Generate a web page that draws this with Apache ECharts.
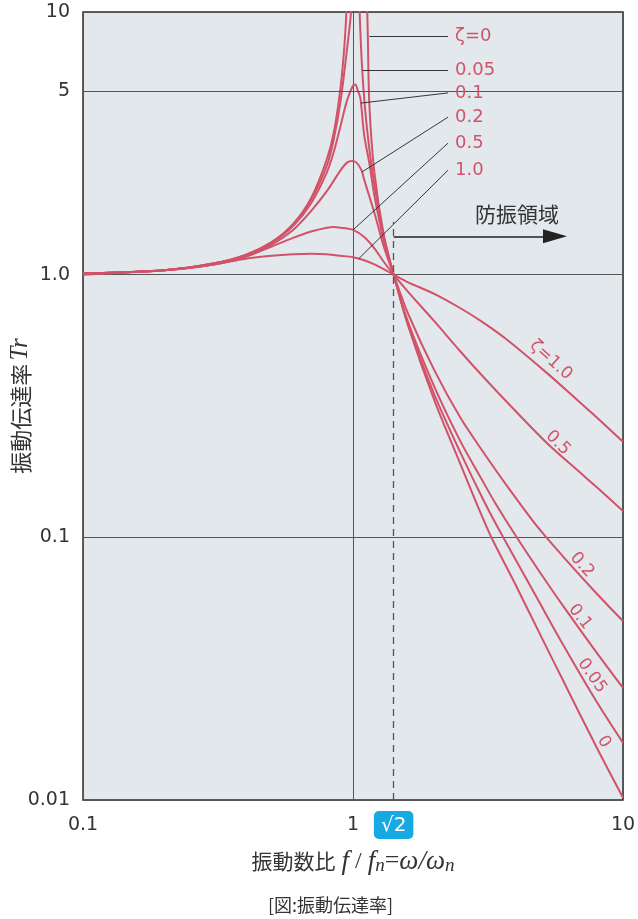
<!DOCTYPE html>
<html>
<head>
<meta charset="utf-8">
<script src="https://cdn.jsdelivr.net/npm/echarts@6/dist/echarts.min.js"></script>
<style>
html,body{margin:0;padding:0;background:#fff;}
#chart{width:638px;height:919px;}
</style>
</head>
<body>
<div id="chart"></div>
<script>
// 読み取り値 [振動数比 r, 振動伝達率 Tr]、'-' は線の切れ目
const zeta0 = [[0.1,1.01],[0.2,1.04],[0.3,1.1],[0.4,1.19],[0.5,1.33],[0.6,1.56],[0.7,1.96],[0.8,2.75],[0.85,3.5],[0.9,5.2],[0.93,7.5],[0.95,11],
  [1.0,'-'],
  [1.125,12],[1.135,8],[1.15,4.4],[1.2,2.45],[1.3,1.42],[1.414,1.0],[1.6,0.64],[2,0.333],[2.5,0.19],[2.84,0.138],[3.24,0.101],[4,0.066],[5,0.0415],[6,0.0285],[8,0.0158],[10,0.0102]];
const zeta005 = [[0.1,1.01],[0.2,1.04],[0.3,1.1],[0.4,1.19],[0.5,1.33],[0.6,1.55],[0.7,1.93],[0.8,2.6],[0.85,3.3],[0.9,4.6],[0.95,7.2],[0.98,9.6],[0.995,13],
  [1.02,'-'],
  [1.05,13],[1.06,9.5],[1.08,6.2],[1.11,4.2],[1.15,3.0],[1.2,2.2],[1.3,1.4],[1.414,1.0],[1.6,0.645],[2,0.35],[2.5,0.21],[3.07,0.136],[3.6,0.1],[4.81,0.0586],[6,0.039],[8,0.0236],[10,0.0165]];
const zeta01 = [[0.1,1.01],[0.2,1.04],[0.3,1.1],[0.4,1.18],[0.5,1.32],[0.6,1.53],[0.7,1.87],[0.8,2.45],[0.85,2.95],[0.9,3.7],[0.95,4.6],[1.0,5.25],[1.02,5.3],[1.04,5.05],[1.065,4.7],[1.1,3.4],[1.15,2.65],[1.2,2.0],[1.3,1.35],[1.414,1.0],[1.6,0.66],[2,0.375],[2.5,0.232],[3,0.166],[3.35,0.136],[4.04,0.1],[4.81,0.0763],[6,0.0548],[8,0.0363],[10,0.0267]];
const zeta02 = [[0.1,1.01],[0.2,1.04],[0.3,1.09],[0.4,1.17],[0.5,1.3],[0.6,1.48],[0.7,1.75],[0.8,2.08],[0.9,2.5],[0.95,2.67],[0.99,2.71],[1.03,2.67],[1.075,2.5],[1.1,2.3],[1.2,1.72],[1.3,1.28],[1.414,1.0],[1.6,0.71],[2,0.433],[2.5,0.285],[3,0.215],[3.7,0.158],[4.81,0.11],[6,0.0845],[8,0.061],[10,0.048]];
const zeta05 = [[0.1,1.01],[0.2,1.04],[0.3,1.09],[0.4,1.17],[0.5,1.28],[0.6,1.38],[0.7,1.46],[0.8,1.51],[0.85,1.52],[0.9,1.51],[1.0,1.48],[1.1,1.39],[1.2,1.26],[1.3,1.12],[1.414,1.0],[1.6,0.86],[2,0.665],[2.5,0.51],[3,0.414],[3.7,0.329],[5.26,0.227],[7,0.175],[8,0.155],[10,0.126]];
const zeta10 = [[0.1,1.0],[0.2,1.04],[0.3,1.09],[0.4,1.15],[0.5,1.18],[0.6,1.195],[0.7,1.2],[0.8,1.195],[0.9,1.18],[1.0,1.165],[1.1,1.135],[1.2,1.095],[1.3,1.05],[1.414,1.0],[1.6,0.935],[2,0.845],[2.5,0.745],[3,0.663],[3.7,0.568],[5.26,0.42],[7,0.323],[8,0.286],[10,0.231]];

const xTicks = {'0.1':'0.1','1':'1','10':'10'};
const yTicks = {'0.01':'0.01','0.1':'0.1','1':'1.0','10':'10'};

// 引出し線と凡例文字
const leaderNames = ['ζ=0','0.05','0.1','0.2','0.5','1.0'];
const leaderFrom = [[1.15,8.1],[1.085,5.98],[1.07,4.5],[1.08,2.46],[1.0,1.48],[1.05,1.15]];
const leaderTo = [[2.25,8.1],[2.25,5.98],[2.25,4.92],[2.25,3.98],[2.25,3.17],[2.25,2.5]];

// 曲線上の斜め文字
const tagNames = ['ζ=1.0','0.5','0.2','0.1','0.05','0'];
const tagAt = [[5.41,0.473],[5.74,0.2286],[7.05,0.0785],[6.93,0.0498],[7.68,0.0297],[8.5,0.01664]];
const tagAngle = [-42,-45,-48,-52,-55,-57];

const root2 = 1.414;
const dashTop = 1.59;
const arrowY = 1.40;
const arrowEnd = 5.6;
const zoneText = '防振領域';
const zoneAt = [4.05,1.7];

const red = '#d1536a';
const ink = '#333';
const num = '"DejaVu Sans", "Noto Sans", sans-serif';
const jp = '"Noto Sans CJK JP", sans-serif';
const serif = '"Liberation Serif", "DejaVu Serif", serif';

const chart = echarts.init(document.getElementById('chart'));

const curves = [zeta0, zeta005, zeta01, zeta02, zeta05, zeta10].map(d => ({
  type: 'line',
  data: d,
  showSymbol: false,
  smooth: 0.3,
  silent: true,
  z: 3,
  lineStyle: { color: red, width: 2 }
}));

const option = {
  backgroundColor: '#fff',
  animation: false,
  title: {
    text: '[図:振動伝達率]',
    left: 263,
    top: 891,
    textStyle: { fontFamily: jp, fontSize: 18, fontWeight: 'normal', color: ink }
  },
  grid: {
    left: 83, right: 15, top: 12, bottom: 119,
    outerBoundsMode: 'none',
    containLabel: false,
    show: true,
    backgroundColor: '#e3e8ec',
    borderColor: '#2b2b2b',
    borderWidth: 1.5
  },
  xAxis: {
    type: 'log', logBase: 10, min: 0.1, max: 10,
    axisLine: { show: false },
    axisTick: { show: false },
    axisLabel: {
      margin: 16, fontSize: 19, color: ink, fontFamily: num,
      formatter: v => xTicks[String(+v.toPrecision(3))] || ''
    },
    splitLine: { show: true, lineStyle: { color: '#555', width: 1 } },
    name: '{a|振動数比}{s| }{i|f}{s| / }{i|f}{n|n}{e|=}{i|ω/ω}{n|n}',
    nameLocation: 'middle',
    nameMoveOverlap: false,
    nameGap: 48,
    nameTextStyle: {
      rich: {
        a: { fontFamily: jp, fontSize: 21, color: ink },
        s: { fontFamily: serif, fontSize: 24, color: ink },
        i: { fontFamily: serif, fontStyle: 'italic', fontSize: 27, color: ink },
        e: { fontFamily: serif, fontSize: 26, color: ink },
        n: { fontFamily: serif, fontStyle: 'italic', fontSize: 19, color: ink, padding: [8, 0, 0, 0] }
      }
    }
  },
  yAxis: {
    type: 'log', logBase: 10, min: 0.01, max: 10,
    axisLine: { show: false },
    axisTick: { show: false },
    axisLabel: {
      margin: 13, fontSize: 19, color: ink, fontFamily: num,
      formatter: v => yTicks[String(+v.toPrecision(3))] || ''
    },
    splitLine: { show: true, lineStyle: { color: '#555', width: 1 } },
    name: '{a|振動伝達率}{s| }{i|Tr}',
    nameLocation: 'middle',
    nameMoveOverlap: false,
    nameGap: 50,
    nameTextStyle: {
      rich: {
        a: { fontFamily: jp, fontSize: 22, color: ink },
        s: { fontSize: 12 },
        i: { fontFamily: serif, fontStyle: 'italic', fontSize: 25, color: ink }
      }
    }
  },
  series: curves.concat([
    {
      // 5 の目盛線と引出し線
      type: 'line', data: [], silent: true, z: 2,
      markLine: {
        silent: true, symbol: ['none', 'none'], animation: false,
        data: [
          [{ coord: [0.1, 5] }, {
            coord: [10, 5],
            lineStyle: { color: '#555', width: 1, type: 'solid' },
            label: { show: true, position: 'start', formatter: '5', distance: 13, fontSize: 19, color: ink, fontFamily: num }
          }]
        ].concat(leaderFrom.map((p, i) => [
          { coord: p },
          { coord: leaderTo[i], lineStyle: { color: '#222', width: 0.9, type: 'solid' }, label: { show: false } }
        ])),
        lineStyle: { color: '#222', width: 0.9, type: 'solid' },
        label: { show: false }
      },
      markPoint: {
        silent: true, symbol: 'circle', symbolSize: 0, animation: false,
        data: leaderTo.map((p, i) => ({
          coord: p,
          label: { show: true, position: 'right', distance: 7, formatter: leaderNames[i], color: red, fontSize: 18, fontFamily: num }
        })).concat(tagAt.map((p, i) => ({
          coord: p,
          label: { show: true, position: 'inside', rotate: tagAngle[i], formatter: tagNames[i], color: red, fontSize: 17, fontFamily: num }
        }))).concat([{
          coord: zoneAt,
          label: { show: true, position: 'inside', formatter: zoneText, color: ink, fontSize: 21, fontFamily: jp }
        }])
      }
    },
    {
      // √2 の破線
      type: 'line', data: [], silent: true, z: 2,
      markLine: {
        silent: true, symbol: ['none', 'none'], animation: false,
        lineStyle: { color: '#555', width: 1.3, type: [7, 5] },
        label: {
          show: true, position: 'start', distance: 11,
          formatter: '{b|√2}',
          rich: { b: { backgroundColor: '#17a9e1', borderRadius: 5, padding: [5, 7, 3, 7], color: '#fff', fontSize: 20, fontFamily: num } }
        },
        data: [[{ coord: [root2, 0.01] }, { coord: [root2, dashTop] }]]
      }
    },
    {
      // 防振領域の矢印
      type: 'line', data: [], silent: true, z: 2,
      markLine: {
        silent: true, animation: false,
        symbol: ['none', 'triangle'], symbolSize: [14, 24],
        lineStyle: { color: '#222', width: 1.5, type: 'solid' },
        itemStyle: { color: '#222' },
        label: { show: false },
        data: [[{ coord: [root2, arrowY] }, { coord: [arrowEnd, arrowY] }]]
      }
    }
  ])
};

chart.setOption(option);
</script>
</body>
</html>
